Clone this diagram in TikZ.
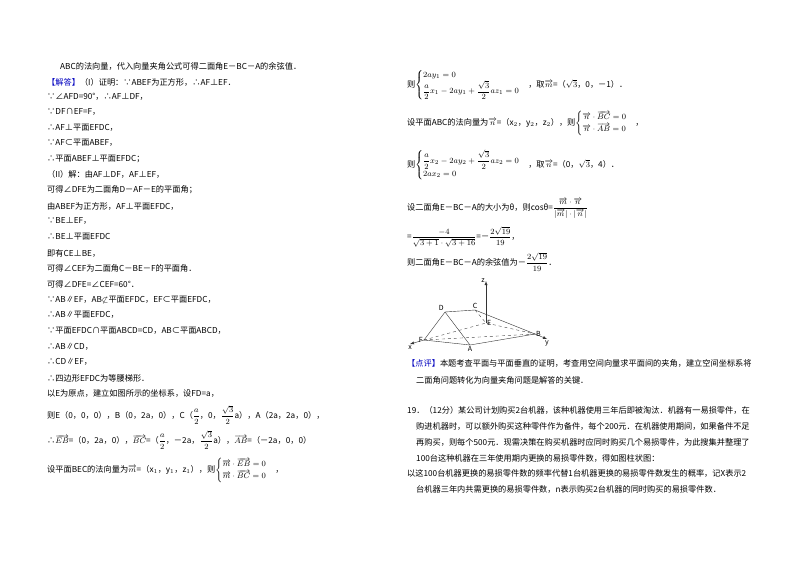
\documentclass[tikz,border=0pt]{standalone}
\usepackage{amsmath, amssymb}
\usepackage{fontspec}
\setmainfont{Noto Sans CJK SC}
\newcommand{\vv}[1]{\overrightarrow{#1}}
\begin{document}
\begin{tikzpicture}
[x=1pt, y=-1pt,
txt/.style={anchor=west, inner sep=0pt, font=\fontsize{8.2}{9}\selectfont},
edge/.style={thin, black!80},
hidden/.style={thin, black!70, dashed},
axis/.style={thin, black!80, -latex},
vlabel/.style={inner sep=1pt, font=\fontsize{7}{8}\selectfont\itshape}]
\useasboundingbox[fill=white] (0,0) rectangle (800,565);

% left column
\node[txt] (l0) at (60,66) {ABC的法向量，代入向量夹角公式可得二面角E－BC－A的余弦值．};
\node[txt] (l1) at (47,82) {\textcolor{blue!75!black}{【解答】}（I）证明：∵ABEF为正方形，∴AF⊥EF．};
\node[txt] (l2) at (47,97) {∵∠AFD=90°，∴AF⊥DF，};
\node[txt] (l3) at (47,112) {∵DF∩EF=F，};
\node[txt] (l4) at (47,128) {∴AF⊥平面EFDC，};
\node[txt] (l5) at (47,143) {∵AF⊂平面ABEF，};
\node[txt] (l6) at (47,159) {∴平面ABEF⊥平面EFDC；};
\node[txt] (l7) at (47,174) {（II）解：由AF⊥DF，AF⊥EF，};
\node[txt] (l8) at (47,190) {可得∠DFE为二面角D－AF－E的平面角；};
\node[txt] (l9) at (47,206) {由ABEF为正方形，AF⊥平面EFDC，};
\node[txt] (l10) at (47,221) {∵BE⊥EF，};
\node[txt] (l11) at (47,237) {∴BE⊥平面EFDC};
\node[txt] (l12) at (47,253) {即有CE⊥BE，};
\node[txt] (l13) at (47,268) {可得∠CEF为二面角C－BE－F的平面角．};
\node[txt] (l14) at (47,284) {可得∠DFE=∠CEF=60°．};
\node[txt] (l15) at (47,300) {∵AB∥EF，AB$\not\subset$平面EFDC，EF⊂平面EFDC，};
\node[txt] (l16) at (47,315) {∴AB∥平面EFDC，};
\node[txt] (l17) at (47,331) {∵平面EFDC∩平面ABCD=CD，AB⊂平面ABCD，};
\node[txt] (l18) at (47,347) {∴AB∥CD，};
\node[txt] (l19) at (47,362) {∴CD∥EF，};
\node[txt] (l20) at (47,378) {∴四边形EFDC为等腰梯形．};
\node[txt] (l21) at (47,393) {以E为原点，建立如图所示的坐标系，设FD=a，};
\node[txt] (l22) at (47,415) {则E（0，0，0），B（0，2a，0），C（$\dfrac{a}{2}$，0，$\dfrac{\sqrt3}{2}$a），A（2a，2a，0），};
\node[txt] (l23) at (47,440) {∴$\vv{EB}$=（0，2a，0），$\vv{BC}$=（$\dfrac{a}{2}$，－2a，$\dfrac{\sqrt3}{2}$a），$\vv{AB}$=（－2a，0，0）};
\node[txt] (l24) at (47,470) {设平面BEC的法向量为$\vv{m}$=（x$_1$，y$_1$，z$_1$），则$\begin{cases}\vv{m}\cdot\vv{EB}=0\\ \vv{m}\cdot\vv{BC}=0\end{cases}$，};

% right column
\node[txt] (r1) at (407,85) {则$\begin{cases}2ay_1=0\\ \dfrac{a}{2}x_1-2ay_1+\dfrac{\sqrt3}{2}az_1=0\end{cases}$，取$\vv{m}$=（$\sqrt3$，0，－1）．};
\node[txt] (r2) at (407,123) {设平面ABC的法向量为$\vv{n}$=（x$_2$，y$_2$，z$_2$），则$\begin{cases}\vv{n}\cdot\vv{BC}=0\\ \vv{n}\cdot\vv{AB}=0\end{cases}$，};
\node[txt] (r3) at (407,165) {则$\begin{cases}\dfrac{a}{2}x_2-2ay_2+\dfrac{\sqrt3}{2}az_2=0\\ 2ax_2=0\end{cases}$，取$\vv{n}$=（0，$\sqrt3$，4）．};
\node[txt] (r4) at (407,208) {设二面角E－BC－A的大小为θ，则cosθ=$\dfrac{\vv{m}\cdot\vv{n}}{|\vv{m}|\cdot|\vv{n}|}$};
\node[txt] (r5) at (407,237) {=$\dfrac{-4}{\sqrt{3+1}\cdot\sqrt{3+16}}$=－$\dfrac{2\sqrt{19}}{19}$，};
\node[txt] (r6) at (407,262) {则二面角E－BC－A的余弦值为－$\dfrac{2\sqrt{19}}{19}$．};

% figure
\coordinate (xe) at (410,344);
\coordinate (ye) at (547,339);
\coordinate (ze) at (486,281);
\coordinate (F) at (424,340);
\coordinate (A) at (470,345);
\coordinate (B) at (535,334);
\coordinate (E) at (486,323);
\coordinate (D) at (445,312);
\coordinate (C) at (475,310);
\draw[axis] (F) -- (xe);
\draw[axis] (B) -- (ye);
\draw[axis] (E) -- (ze);
\draw[edge] (F) -- (D) -- (C) -- (B) -- (A) -- (F);
\draw[edge] (D) -- (A);
\draw[hidden] (C) -- (E) -- (B);
\draw[hidden] (F) -- (E);
\draw[hidden] (F) -- (B);
\node[vlabel, above left] (nD) at (D) {D};
\node[vlabel, above] (nC) at (C) {C};
\node[vlabel, right] (nE) at (E) {E};
\node[vlabel, below] (nA) at (A) {A};
\node[vlabel, left] (nF) at (F) {F};
\node[vlabel, right] (nB) at (B) {B};
\node[vlabel, below] (nx) at (xe) {x};
\node[vlabel, below] (ny) at (ye) {y};
\node[vlabel, left] (nz) at (ze) {z};

\node[txt] (r7) at (407,363) {\textcolor{blue!75!black}{【点评】}本题考查平面与平面垂直的证明，考查用空间向量求平面间的夹角，建立空间坐标系将};
\node[txt] (r8) at (416,380) {二面角问题转化为向量夹角问题是解答的关键．};
\node[txt] (r9) at (407,410) {19．（12分）某公司计划购买2台机器，该种机器使用三年后即被淘汰．机器有一易损零件，在};
\node[txt] (r10) at (416,426) {购进机器时，可以额外购买这种零件作为备件，每个200元．在机器使用期间，如果备件不足};
\node[txt] (r11) at (416,442) {再购买，则每个500元．现需决策在购买机器时应同时购买几个易损零件，为此搜集并整理了};
\node[txt] (r12) at (416,458) {100台这种机器在三年使用期内更换的易损零件数，得如图柱状图：};
\node[txt] (r13) at (407,473) {以这100台机器更换的易损零件数的频率代替1台机器更换的易损零件数发生的概率，记X表示2};
\node[txt] (r14) at (416,489) {台机器三年内共需更换的易损零件数，n表示购买2台机器的同时购买的易损零件数．};
\end{tikzpicture}
\end{document}
